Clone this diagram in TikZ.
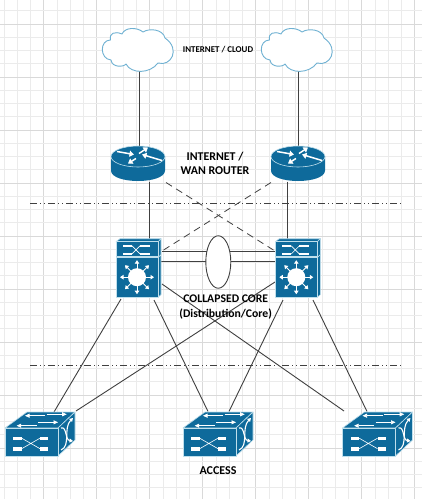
\documentclass[tikz,border=0pt]{standalone}
\usepackage{fontspec}
\setmainfont{Carlito}
\usetikzlibrary{arrows.meta}
\definecolor{ciscoblue}{HTML}{0E6A9B}
\definecolor{iconedge}{HTML}{BFDFEC}
\definecolor{cloudedge}{HTML}{6FB1D2}
\definecolor{linkcol}{HTML}{404040}
\tikzset{
  x=1pt,y=-1pt,
  anchorbox/.style={inner sep=0pt,outer sep=0pt,draw=none},
  link/.style={draw=linkcol,line width=0.9pt},
  thicklink/.style={draw=linkcol,line width=1.5pt},
  dashlink/.style={draw=linkcol,line width=0.8pt,dash pattern=on 7pt off 5pt},
  divider/.style={draw=linkcol,line width=0.8pt,dash pattern=on 7pt off 3pt on 1pt off 3pt on 1pt off 3pt},
  lbltext/.style={inner sep=0pt,text=black,align=center},
  face/.style={fill=ciscoblue,draw=iconedge,line width=0.6pt,line join=round},
  whitearrow/.style={draw=white,line width=1.5pt,-{Triangle[length=4.5pt,width=6pt,fill=white]}},
  whitethin/.style={draw=white,line width=0.6pt},
  whitebar/.style={fill=white,draw=none},
  cloudshape/.pic={
    \draw[cloudedge,fill=white,line width=0.9pt,line join=round]
      (7.5,11) .. controls (-3.5,11) and (-3.5,30) .. (8,31)
      .. controls (9,39) and (21,38) .. (23,35)
      .. controls (28,45) and (47,45) .. (55,34)
      .. controls (68,38) and (78,20) .. (62,9)
      .. controls (60,0) and (46,-1) .. (40,3)
      .. controls (34,-2) and (22,-2) .. (19,5)
      .. controls (12,2) and (6,4) .. (7.5,11) -- cycle;
  },
  routericon/.pic={
    \path[fill=ciscoblue] (-27,0) -- (-27,14) .. controls (-27,28) and (27,28) .. (27,14) -- (27,0) -- cycle;
    \path[face] (0,0) ellipse[x radius=27,y radius=10.5];
    \draw[whitearrow] (-21,-5) -- (-4,-2);
    \draw[whitearrow] (1,-3) -- (10,-9);
    \draw[whitearrow] (24,4) -- (4,-2);
    \draw[whitearrow] (-2,2) -- (-10,7);
  },
  coreicon/.pic={
    \path[face] (42,0) -- (45,-3) -- (45,13) -- (42,16) -- cycle;
    \path[face] (42,16) -- (45,13) -- (45,53) -- (42,55.5) -- cycle;
    \path[face] (0,0) -- (4,-3) -- (45,-3) -- (42,0) -- cycle;
    \path[face] (0,0) rectangle (42,15);
    \path[whitebar] (6.5,3) rectangle (16,5.5);
    \path[whitebar] (6.5,11) rectangle (16,13.5);
    \path[whitebar] (24,3) rectangle (34,5.5);
    \path[whitebar] (24,11) rectangle (34,13.5);
    \draw[whitethin] (16,4.2) -- (24,12.2) (16,12.2) -- (24,4.2);
    \path[face] (0,16) rectangle (42,55.5);
    \fill[white] (21,35.5) circle[radius=9];
    \foreach \a in {0,45,...,315}{
      \draw[draw=white,line width=0.9pt,-{Triangle[length=3.5pt,width=4.5pt,fill=white]}]
        (21,35.5) -- ++(\a:17);
    }
  },
  accessicon/.pic={
    \path[face] (0,0) -- (22,-16) -- (70,-16) -- (53,0) -- cycle;
    \path[face] (53,0) -- (70,-16) -- (70,12) -- (53,28) -- cycle;
    \path[face] (0,0) rectangle (53,28);
    \path[whitebar] (8.3,8.5) rectangle (16.7,12);
    \path[whitebar] (8.3,19) rectangle (16.7,22.5);
    \path[whitebar] (35,8.5) rectangle (43.3,12);
    \path[whitebar] (35,19) rectangle (43.3,22.5);
    \draw[whitethin] (16.7,10.2) -- (35,20.7) (16.7,20.7) -- (35,10.2);
    \draw[draw=white,line width=0.6pt,-{Triangle[length=4.5pt,width=4pt,fill=white]}] (40,-12.3) -- (20,-12.3);
    \draw[draw=white,line width=0.6pt,-{Triangle[length=4.5pt,width=4pt,fill=white]}] (41.7,-13.7) -- (61.7,-13.7);
    \draw[draw=white,line width=0.6pt,-{Triangle[length=4.5pt,width=4pt,fill=white]}] (31.7,-2.3) -- (11.7,-2.3);
    \draw[draw=white,line width=0.6pt,-{Triangle[length=4.5pt,width=4pt,fill=white]}] (33,-5.7) -- (53,-5.7);
    \draw[draw=white,line width=1.1pt,-{Triangle[length=3.5pt,width=4pt,fill=white]}] (56,22) .. controls (66,18) and (58,0) .. (68,-10);
    \draw[draw=white,line width=1.1pt,-{Triangle[length=3.5pt,width=4pt,fill=white]}] (56,0) .. controls (62,-2) and (60,12) .. (68,13);
  }
}
\begin{document}
\begin{tikzpicture}
\useasboundingbox (0,0) rectangle (422,499);
\fill[white] (0,0) rectangle (422,499);
\foreach \i in {0,...,31}{
  \pgfmathsetmacro{\gx}{4+13.25*\i}
  \pgfmathtruncatemacro{\maj}{mod(\i+1,4)==0 ? 1 : 0}
  \ifnum\maj=1 \draw[black!15,line width=0.9pt] (\gx,0) -- (\gx,499);
  \else \draw[black!8,line width=0.9pt] (\gx,0) -- (\gx,499); \fi
}
\foreach \i in {0,...,37}{
  \pgfmathsetmacro{\gy}{10.75+13.25*\i}
  \pgfmathtruncatemacro{\maj}{mod(\i+3,4)==0 ? 1 : 0}
  \ifnum\maj=1 \draw[black!15,line width=0.9pt] (0,\gy) -- (422,\gy);
  \else \draw[black!8,line width=0.9pt] (0,\gy) -- (422,\gy); \fi
}
\node[anchorbox,minimum width=70pt,minimum height=42pt] (cloud1) at (139,50) {};
\node[anchorbox,minimum width=70pt,minimum height=42pt] (cloud2) at (298,50) {};
\node[anchorbox,minimum width=54pt,minimum height=36pt] (router1) at (138,163.5) {};
\node[anchorbox,minimum width=54pt,minimum height=36pt] (router2) at (298,163.5) {};
\node[anchorbox,minimum width=45pt,minimum height=59pt] (core1) at (138.3,268) {};
\node[anchorbox,minimum width=45pt,minimum height=59pt] (core2) at (297.3,268) {};
\node[anchorbox,minimum width=70pt,minimum height=44pt] (access1) at (40,434) {};
\node[anchorbox,minimum width=70pt,minimum height=44pt] (access2) at (218,434) {};
\node[anchorbox,minimum width=70pt,minimum height=44pt] (access3) at (377.5,434) {};
\coordinate (divAL) at (30,203);
\coordinate (divAR) at (402,203);
\coordinate (divBL) at (30,365);
\coordinate (divBR) at (402,365);
\draw[divider] (divAL) -- (divAR);
\draw[divider] (divBL) -- (divBR);
\draw[link] (cloud1.south) -- (cloud1.south |- router1.north);
\draw[link] (cloud2.south) -- (cloud2.south |- router2.north);
\draw[link] ([xshift=11pt]router1.south) -- ([xshift=11pt]router1.south |- core1.north);
\draw[link] ([xshift=-10.5pt]router2.south) -- ([xshift=-10.5pt]router2.south |- core2.north);
\draw[dashlink] ([shift={(28,19)}]router1.center) -- ([shift={(-22.3,-17)}]core2.center);
\draw[dashlink] ([shift={(-27,19)}]router2.center) -- ([shift={(23.7,-17)}]core1.center);
\draw[link] ([shift={(23.7,-16.7)}]core1.center) -- ([shift={(-22.3,-16.7)}]core2.center);
\draw[thicklink] ([shift={(21.7,-6.3)}]core1.center) -- ([shift={(-22.3,-6.3)}]core2.center);
\draw[link] ([shift={(-17.3,31)}]core1.center) -- ([shift={(14,-22)}]access1.center);
\draw[link] ([shift={(15.7,32)}]core1.center) -- ([shift={(-10,-22.5)}]access2.center);
\draw[link] ([shift={(23.7,16)}]core1.center) -- ([shift={(-33.5,-23)}]access3.center);
\draw[link] ([shift={(-22.3,14)}]core2.center) -- ([shift={(36,-23)}]access1.center);
\draw[link] ([shift={(-14.3,32)}]core2.center) -- ([shift={(11,-22.5)}]access2.center);
\draw[link] ([shift={(15.7,32)}]core2.center) -- ([shift={(-10.5,-22.5)}]access3.center);
\node[draw=linkcol,fill=white,line width=0.9pt,shape=circle,inner sep=0pt,minimum size=25pt,yscale=2.1] (bundle) at (218.3,262) {};
\pic at (103,29) {cloudshape};
\pic at (262,29) {cloudshape};
\pic at (138,156.5) {routericon};
\pic at (298,156.5) {routericon};
\pic at (116,241.7) {coreicon};
\pic at (275.3,241.7) {coreicon};
\pic at (5,428) {accessicon};
\pic at (183,428) {accessicon};
\pic at (342.5,428) {accessicon};
\node[lbltext,font=\bfseries\fontsize{8.9}{10}\selectfont] (lblcloud) at (218,50) {INTERNET / CLOUD};
\node[lbltext,font=\bfseries\fontsize{11.9}{14}\selectfont] (lblwan) at (215,163) {INTERNET /\\WAN ROUTER};
\node[lbltext,font=\bfseries\fontsize{11.7}{15}\selectfont] (lblcore) at (225.7,307.5) {COLLAPSED CORE\\(Distribution/Core)};
\node[lbltext,font=\bfseries\fontsize{12}{12}\selectfont] (lblaccess) at (218,471) {ACCESS};
\end{tikzpicture}
\end{document}
